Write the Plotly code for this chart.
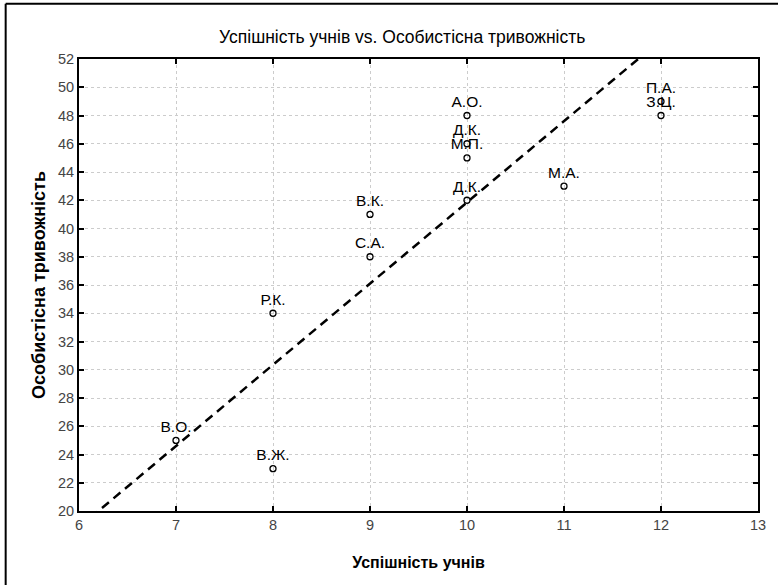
import plotly.graph_objects as go

names = ["В.О.", "В.Ж.", "Р.К.", "С.А.", "В.К.", "Д.К.", "М.П.", "Д.К.", "А.О.", "М.А.", "З.Ц.", "П.А."]
success = [7, 8, 8, 9, 9, 10, 10, 10, 10, 11, 12, 12]
anxiety = [25, 23, 34, 38, 41, 42, 45, 46, 48, 43, 48, 49]

# fitted line parameters
fit_slope = 5.75
fit_intercept = -15.65
fit_x = [6.0, 13.0]
fit_y = [fit_intercept + fit_slope * v for v in fit_x]

x_ticks = [6, 7, 8, 9, 10, 11, 12, 13]
y_ticks = list(range(20, 53, 2))

FONT = "Liberation Sans, Arial"

fig = go.Figure()
fig.add_trace(go.Scatter(
    x=fit_x, y=fit_y, mode="lines",
    line=dict(color="black", width=2.5, dash="9px,6px"),
    hoverinfo="skip", showlegend=False))
fig.add_trace(go.Scatter(
    x=success, y=anxiety, mode="markers+text",
    marker=dict(symbol="circle-open", size=6, color="black", line=dict(width=1.3, color="black")),
    text=names, textposition="top center",
    textfont=dict(family=FONT, size=15.5, color="black"),
    showlegend=False))

axis_common = dict(
    showline=True, linecolor="black", linewidth=2, mirror="ticks",
    ticks="inside", ticklen=5, tickwidth=2, tickcolor="black",
    showgrid=True, gridcolor="#cccccc", griddash="dot", gridwidth=1,
    zeroline=False,
    tickfont=dict(family=FONT, size=14.5, color="#444444"),
)

fig.update_layout(
    width=778, height=585,
    margin=dict(l=79, r=13, t=59, b=74),
    paper_bgcolor="white", plot_bgcolor="white",
    title=dict(text="Успішність учнів vs. Особистісна тривожність",
               x=0.517, xanchor="center", y=0.937, yanchor="middle",
               font=dict(family=FONT, size=17.5, color="black")),
    xaxis=dict(range=[6, 13], tickvals=x_ticks, ticktext=[str(v) for v in x_ticks],
               title=dict(text="<b>Успішність учнів</b>", standoff=24,
                          font=dict(family=FONT, size=16, color="black")),
               **axis_common),
    yaxis=dict(range=[20, 52], tickvals=y_ticks, ticktext=[str(v) for v in y_ticks],
               title=dict(text="<b>Особистісна тривожність</b>", standoff=8,
                          font=dict(family=FONT, size=18, color="black")),
               **axis_common),
    shapes=[
        dict(type="line", xref="paper", yref="paper", x0=-0.108, x1=1.2, y0=1.122, y1=1.122,
             line=dict(color="black", width=2)),
        dict(type="line", xref="paper", yref="paper", x0=-0.108, x1=-0.108, y0=-0.3, y1=1.122,
             line=dict(color="black", width=2)),
    ],
)

fig.write_html("out.html")
